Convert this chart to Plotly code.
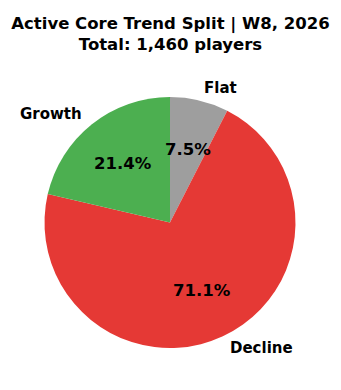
import math
import plotly.graph_objects as go

# Data (clockwise from 12 o'clock)
categories = ["Flat", "Decline", "Growth"]
players = [110, 1038, 312]
colors = ["#9E9E9E", "#E53935", "#4CAF50"]
title_line1 = "Active Core Trend Split | W8, 2026"
title_line2 = "Total: 1,460 players"

W, H = 341, 390
CX, CY, R = 170.0, 222.5, 125.5  # pie centre/radius in pixels
FONT = "DejaVu Sans"

fig = go.Figure()
fig.add_trace(go.Pie(
    labels=categories,
    values=players,
    marker=dict(colors=colors, line=dict(width=0)),
    sort=False,
    direction="clockwise",
    rotation=0,
    textinfo="none",
    hoverinfo="label+percent",
    showlegend=False,
    domain=dict(x=[(CX - R) / W, (CX + R) / W],
                y=[(H - CY - R) / H, (H - CY + R) / H]),
))

total = sum(players)
start = 90.0
annotations = []
for cat, v in zip(categories, players):
    span = v / total * 360.0
    mid = math.radians(start - span / 2)
    start -= span
    # label outside
    lx = CX + 1.1 * R * math.cos(mid)
    ly = CY - 1.1 * R * math.sin(mid)
    annotations.append(dict(
        text=f"<b>{cat}</b>", x=lx / W, y=1 - ly / H, xref="paper", yref="paper",
        xanchor="left" if math.cos(mid) >= 0 else "right", yanchor="middle",
        showarrow=False, font=dict(family=FONT, size=15, color="black")))
    # percentage inside
    px = CX + 0.6 * R * math.cos(mid)
    py = CY - 0.6 * R * math.sin(mid)
    annotations.append(dict(
        text=f"<b>{v / total * 100:.1f}%</b>", x=px / W, y=1 - py / H,
        xref="paper", yref="paper", xanchor="center", yanchor="middle",
        showarrow=False, font=dict(family=FONT, size=16.5, color="black")))

fig.update_layout(
    width=W, height=H,
    margin=dict(l=0, r=0, t=0, b=0),
    paper_bgcolor="white", plot_bgcolor="white",
    title=dict(text=f"<b>{title_line1}</b><br><b>{title_line2}</b>",
               x=0.5, xanchor="center", y=1 - 28.5 / H, yanchor="middle",
               xref="container", yref="container",
               font=dict(family=FONT, size=16.5, color="black")),
    annotations=annotations,
)

fig.write_html("out.html")
